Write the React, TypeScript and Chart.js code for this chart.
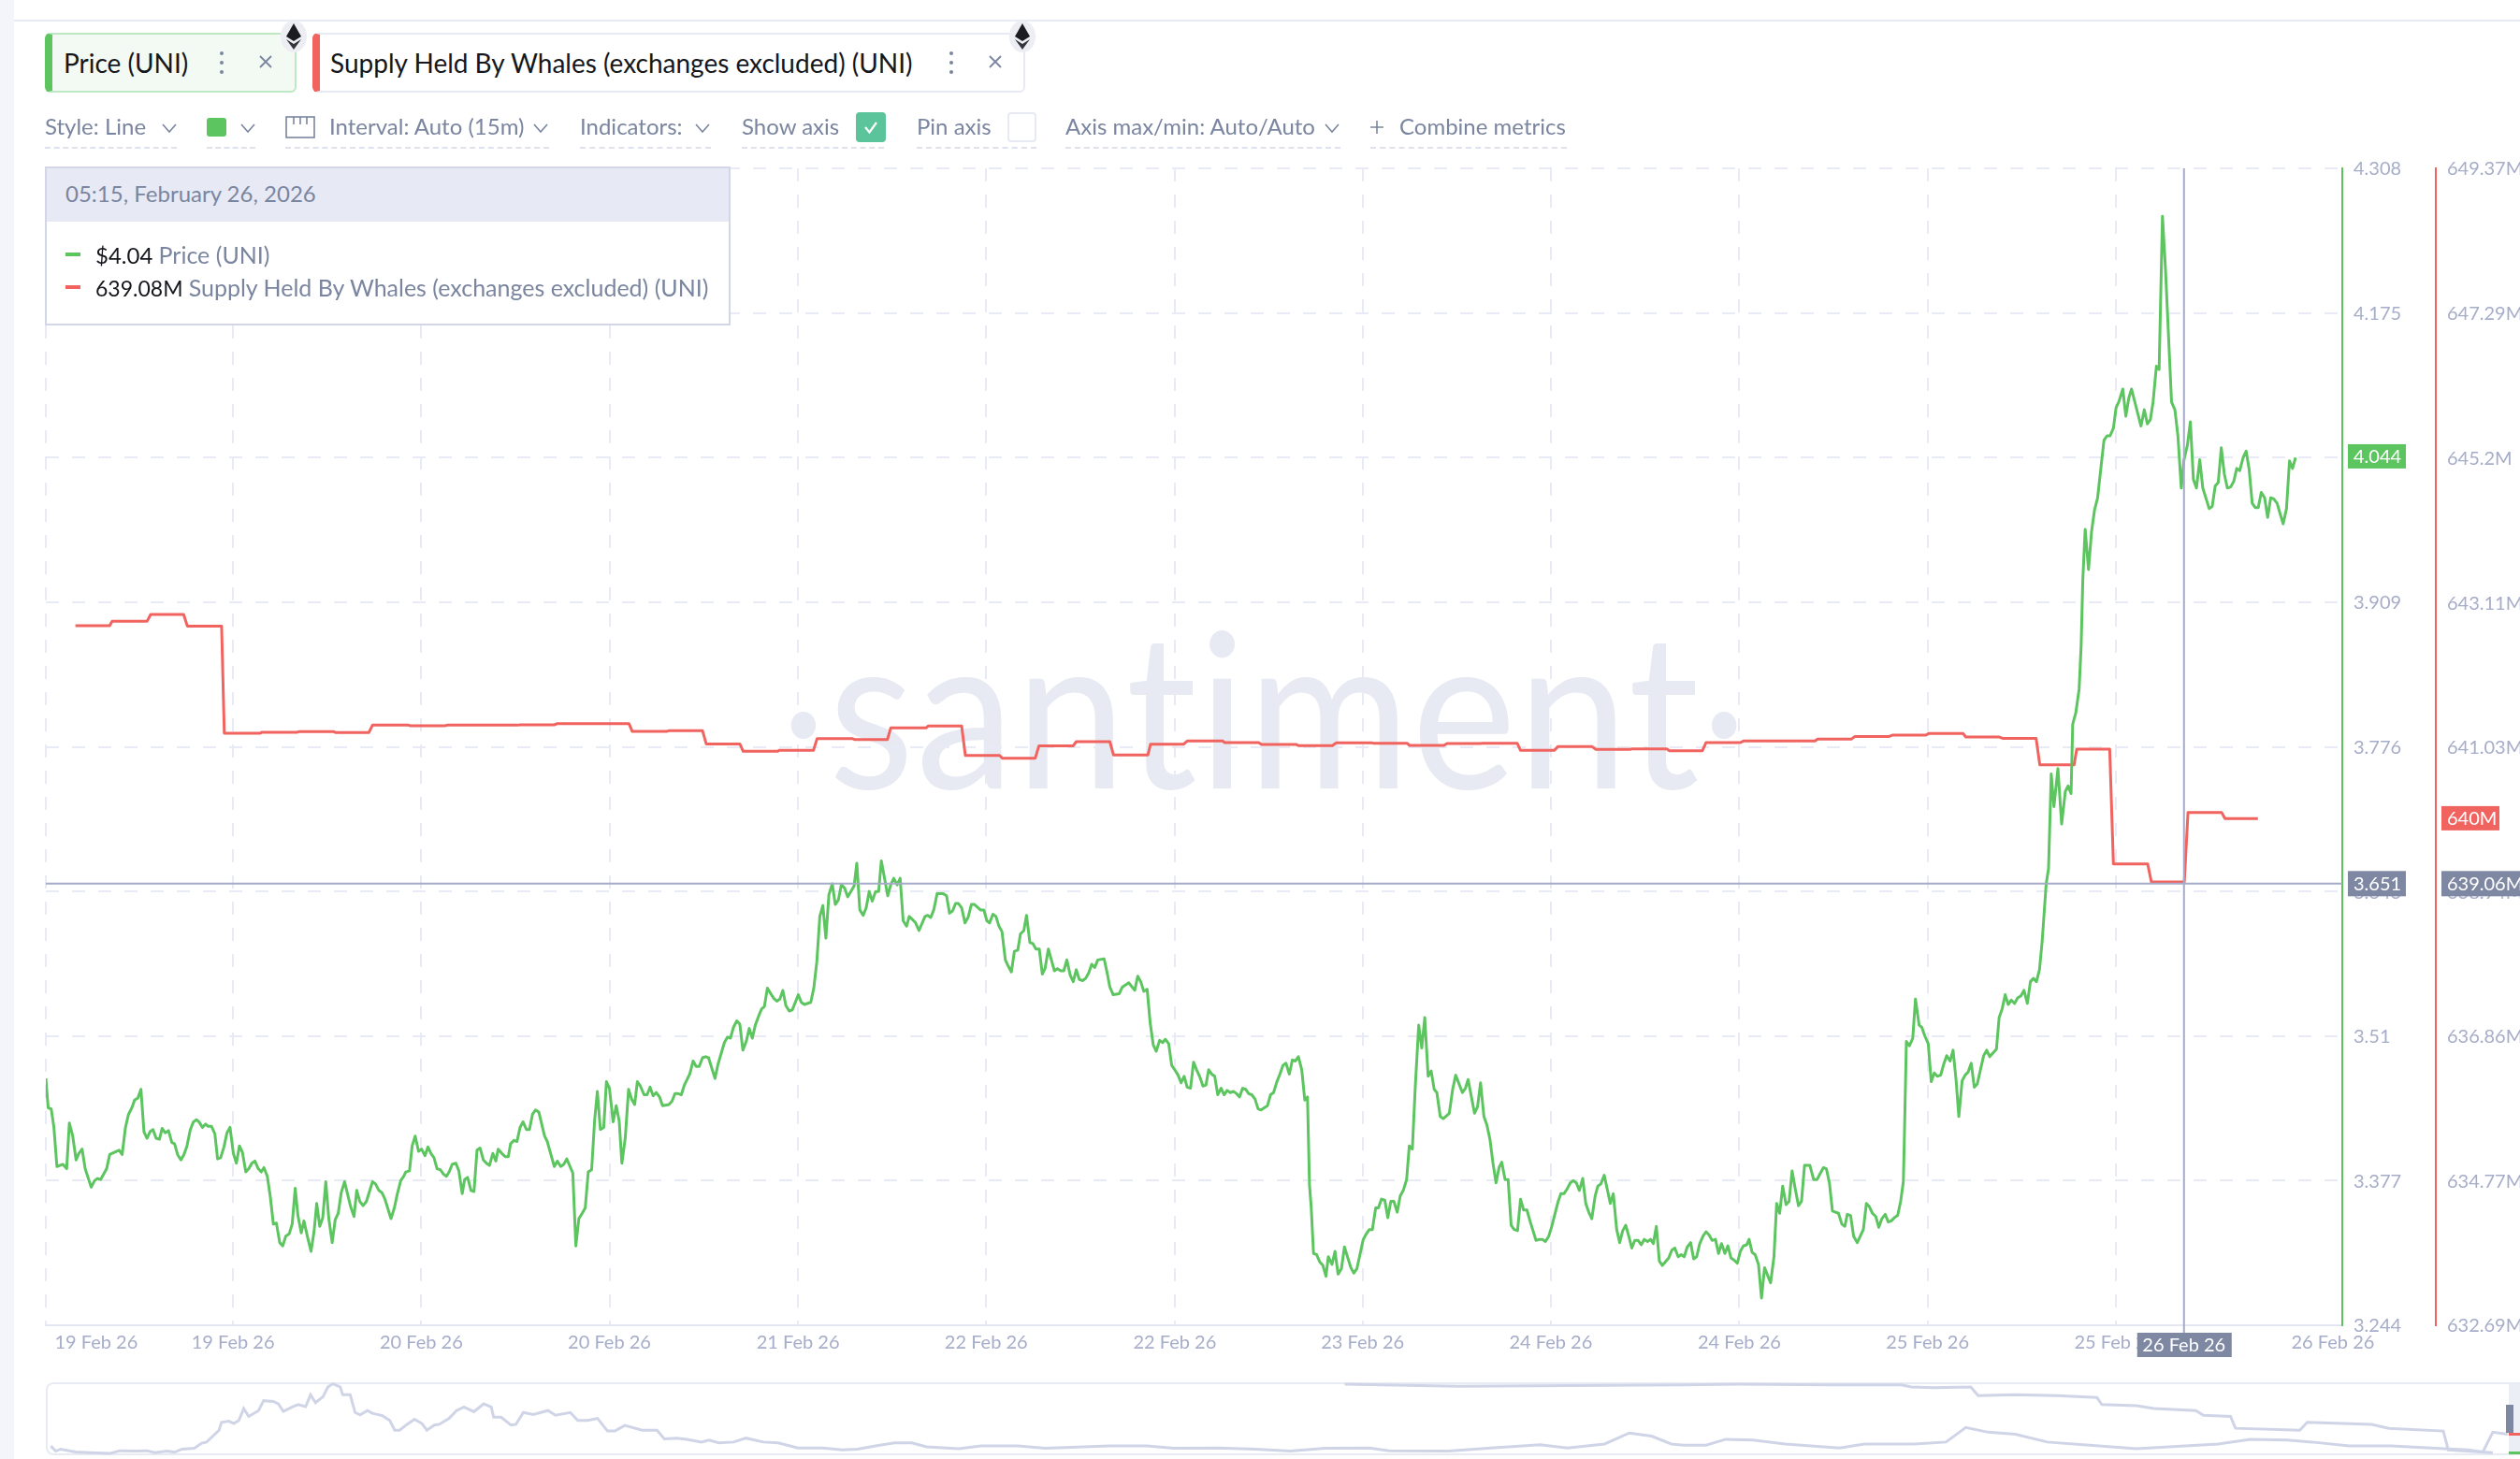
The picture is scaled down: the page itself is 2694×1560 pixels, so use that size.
import React, { useEffect, useRef } from "react";
import { Chart, registerables } from "chart.js";

Chart.register(...registerables);

const FONT = "Lato, 'Open Sans', sans-serif";
const GREEN = "#5cc55f";
const RED = "#f0635f";
const SLATE = "#7f88a3";
const AXIS_TEXT = "#a6adc9";
const GRID = "#e8eaf5";

// Price (UNI): 15-minute step index and USD value, one pair of arrays per stretch of the chart
const priceSteps1 = [0,0.7,1.6,2.4,3.3,5.1,6.2,7,8,9,9.8,10.8,11.7,13.5,14.5,15.4,16.3,18.1,19,21.8,22.7,23.7,24.6,25.6,26.4,27.4,28.3,29.2,30.1,31,31.9,32.8,33.8,34.6,35.5,36.5,37.5,38.3,39.2,40.2,41.1,42,43,43.9,44.8,45.6,46.6,47.5,48.3,49.3,50.3,51.1,52,53,53.9,54.8,55.8,56.7,57.6,58.5,59.5,60.4,61.3,62.2,63.2,64.1,64.9,65.9,66.8,67.7,68.6,69.6,70.5,71.4,72.4,73.3,74.2,75,76,76.8,77.8,78.9,79.8,80.6,81.5,82.4,83.3,84.2,85.2,86.1,87,87.9,88.9,90.7,91.7,92.5,93.4,94.4,95.4,97.2,98.1,99.1,100,100.9,101.9,102.7,103.7,104.6,105.6,106.5,107.1,108.2,109,109.9,110.9,111.8,112.8,113.7,114.6,115.5,116.4,117.4,118.3,119.2];
const priceValues1 = [3.471,3.444,3.443,3.426,3.39,3.392,3.388,3.43,3.418,3.396,3.402,3.406,3.388,3.371,3.377,3.379,3.378,3.388,3.401,3.405,3.401,3.426,3.438,3.444,3.451,3.453,3.461,3.422,3.416,3.422,3.424,3.416,3.415,3.425,3.421,3.423,3.412,3.411,3.401,3.396,3.401,3.409,3.424,3.431,3.433,3.431,3.426,3.429,3.427,3.427,3.42,3.397,3.398,3.408,3.421,3.426,3.402,3.393,3.409,3.403,3.385,3.388,3.393,3.395,3.388,3.385,3.389,3.381,3.362,3.337,3.338,3.32,3.317,3.326,3.328,3.337,3.37,3.345,3.329,3.34,3.326,3.312,3.33,3.356,3.335,3.343,3.376,3.342,3.32,3.341,3.347,3.366,3.376,3.353,3.344,3.368,3.358,3.354,3.358,3.376,3.374,3.368,3.366,3.36,3.35,3.342,3.352,3.365,3.377,3.381,3.385,3.386,3.409,3.418,3.404,3.406,3.4,3.408,3.402,3.398,3.388,3.387,3.383,3.381];

const priceSteps2 = [120,120.9,122,122.9,123.9,124.6,125.5,126.5,127.4,128.3,129.2,130.2,131.1,132,133,133.9,134.6,135.7,136.7,137.6,138.3,139.3,140.2,141.1,142,143,143.9,144.8,145.7,146.7,148.4,149.2,150.1,151.3,152.2,153.2,154.1,155,156.8,157.7,158.6,159.6,160.5,161.4,162.4,163.3,164.1,165,166,166.8,167.7,168.8,169.7,170.6,171.4,172.4,173.4,174.3,175.2,176,176.9,178,178.9,179.8,180.7,181.6,182.6,183.5,185.4,186.3,187.2,188.1,189.1,190,191.6,192.6,193.5,194.4,195.4,196.3,197.2,199.1,200,201.9,202.8,203.7,204.6,205.6,206.5,207.4,208.4,209.3,210.2,211.1,212.3,213,213.8,214.7,216.5,217.5,218.4,219.3,220.2,221.2,222.1,223.9,224.8,225.7,227.6,228.5,229.4,230.3,231.2,232.1,233,234,234.9,235.8,236.7,237.7,238.6,240.5,241.3,242.2,243.2,244.1,245,245.9,246.9,247.8,248.6,249.5,250.5,251.4,252.3,253.3];
const priceValues2 = [3.385,3.392,3.393,3.386,3.365,3.378,3.38,3.368,3.367,3.405,3.407,3.396,3.393,3.391,3.402,3.395,3.406,3.402,3.399,3.399,3.411,3.414,3.413,3.426,3.431,3.424,3.424,3.438,3.442,3.44,3.418,3.413,3.403,3.39,3.395,3.39,3.392,3.397,3.384,3.317,3.342,3.347,3.352,3.385,3.387,3.433,3.459,3.424,3.426,3.468,3.462,3.431,3.446,3.432,3.393,3.416,3.461,3.452,3.447,3.468,3.464,3.456,3.456,3.463,3.455,3.458,3.454,3.446,3.447,3.45,3.457,3.457,3.456,3.465,3.475,3.487,3.482,3.482,3.49,3.491,3.49,3.471,3.484,3.504,3.509,3.508,3.518,3.524,3.521,3.497,3.505,3.517,3.508,3.52,3.53,3.535,3.537,3.554,3.545,3.542,3.544,3.552,3.538,3.533,3.534,3.548,3.541,3.539,3.541,3.554,3.578,3.62,3.63,3.6,3.64,3.65,3.631,3.635,3.649,3.646,3.638,3.648,3.669,3.626,3.621,3.628,3.643,3.634,3.643,3.643,3.671,3.656,3.639,3.649,3.655,3.649];

const priceSteps3 = [254.2,255.1,256.1,256.9,257.9,258.8,259.8,261.6,262.4,263.3,264.2,265.2,267,268,268.9,269.8,270.7,271.5,272.5,273.5,274.4,275.4,276.3,278.1,279.1,280,280.8,281.8,282.7,283.6,284.5,285.5,286.4,287.3,288.2,289.2,290,291,291.8,292.8,293.7,294.6,295.6,296.5,297.3,298.3,299.2,300.1,301,302,302.9,303.8,304.8,305.7,306.6,307.5,308.5,309.4,310.3,311.2,312.1,313,314.9,315.8,316.6,317.6,319.4,320.3,321.3,322.2,324,324.9,325.8,326.7,327.7,328.6,329.5,330.4,331.4,332.3,333.1,334.1,335,335.9,336.9,337.8,338.7,339.6,340.6,341.5,342.4,343.3,344.3,345.2,346,346.9,347.8,348.7,349.7,350.6,351.5,352.4,353.4,354.3,355.2,356.1,357,357.9,358.8,359.8,360.7,361.6,363.5,364.4,365.3,366.3,367.2,368.1,369,370,370.9,371.8,372.7,373.7,374.6,375.4,376,376.5,377.2,378.1,379.1,380,380.9];
const priceValues3 = [3.655,3.616,3.611,3.62,3.617,3.614,3.607,3.62,3.621,3.619,3.626,3.641,3.641,3.639,3.623,3.625,3.632,3.632,3.628,3.614,3.619,3.631,3.631,3.626,3.626,3.616,3.614,3.622,3.62,3.611,3.606,3.58,3.574,3.569,3.588,3.589,3.604,3.607,3.621,3.596,3.595,3.59,3.59,3.567,3.572,3.59,3.58,3.57,3.572,3.57,3.57,3.58,3.566,3.56,3.571,3.562,3.561,3.563,3.568,3.576,3.573,3.58,3.581,3.568,3.555,3.548,3.549,3.555,3.557,3.559,3.552,3.565,3.56,3.551,3.553,3.522,3.502,3.496,3.506,3.504,3.507,3.503,3.483,3.479,3.474,3.467,3.473,3.463,3.462,3.486,3.479,3.473,3.464,3.465,3.479,3.475,3.473,3.456,3.462,3.456,3.46,3.458,3.459,3.457,3.454,3.462,3.461,3.457,3.456,3.452,3.443,3.442,3.446,3.456,3.458,3.468,3.475,3.483,3.485,3.475,3.488,3.487,3.491,3.479,3.451,3.454,3.373,3.353,3.31,3.309,3.302,3.299,3.289];

const priceSteps4 = [381.6,382.7,383.6,384.5,385.5,386.4,387.3,388.3,389.2,390.1,392,392.9,393.8,394.7,395.7,396.5,397.4,398.4,399.3,400.2,401.1,402.1,403,403.9,404.9,405.7,406.6,407.5,408.5,409.4,410.3,411.3,412.2,413.1,413.9,414.9,415.8,417.6,418.6,419.5,421.5,422.4,423.2,425.1,426,426.9,427.9,428.8,429.7,430.6,431.5,432.4,433.2,434.2,435.1,436,436.9,437.9,438.8,439.7,440.7,441.6,443.4,444.4,445.3,446.2,447.2,448.1,449,450,450.8,451.7,452.6,453.6,454.5,455.4,456.3,457.3,458.2,459.1,460,461,461.8,462.7,463.7,464.6,465.5,466.4,467.4,468.3,469.2,470.1,471,471.9,472.8,473.8,474.7,475.6,476.6,477.5,478.3,479.2,480.1,481,482.9,483.8,484.7,485.7,486.6,487.5,488.4,489.4,490.3,491.2,492.1,493.1,494,494.9,495.8,496.8,497.7,498.6,499.6,500.5,501.4,502.3,503.3,504.2,505.1,506.1,506.8,507.7,508.6,509.6,510.5,511.4,513.2];
const priceValues4 = [3.307,3.3,3.312,3.291,3.296,3.316,3.307,3.297,3.292,3.296,3.323,3.328,3.332,3.332,3.352,3.352,3.36,3.359,3.343,3.358,3.358,3.348,3.363,3.368,3.378,3.409,3.406,3.465,3.52,3.499,3.527,3.473,3.478,3.461,3.458,3.436,3.434,3.439,3.461,3.474,3.458,3.462,3.47,3.439,3.445,3.467,3.436,3.428,3.415,3.393,3.375,3.389,3.394,3.378,3.378,3.336,3.332,3.331,3.36,3.35,3.35,3.34,3.322,3.323,3.323,3.321,3.326,3.335,3.346,3.358,3.365,3.365,3.369,3.375,3.377,3.375,3.368,3.379,3.356,3.348,3.342,3.363,3.372,3.374,3.382,3.369,3.356,3.365,3.332,3.32,3.331,3.336,3.326,3.315,3.322,3.322,3.318,3.323,3.321,3.323,3.319,3.335,3.303,3.299,3.306,3.313,3.315,3.307,3.309,3.307,3.316,3.32,3.305,3.307,3.319,3.326,3.33,3.327,3.322,3.323,3.31,3.319,3.31,3.317,3.306,3.304,3.301,3.312,3.317,3.318,3.323,3.311,3.309,3.3,3.269,3.297,3.283];

const priceSteps5 = [514.2,515,515.9,516.8,517.8,518.7,519.6,520.5,521.5,522.4,523.3,524.9,526,527,528.9,529.8,530.7,531.6,533.4,534.4,535.3,536,537,537.9,539,540.8,541.7,542.6,543.5,544.5,545.4,546.3,547.3,548.2,549.1,550,551,551.9,552.7,553,553.6,554.5,555.5,556.3,557.4,558.2,559.1,560.1,561,561.9,562.8,563.8,564.7,565.6,566.6,567.5,568.4,569.2,570.2,571.1,572,572.9,573.8,574.7,576.6,577.5,578.4,580.4,581.2,582.1,583,583.9,584.8,585.8,586.7,587.7,588.6,589.6,590.5,591.4,592.3,593.2,594,594.7,595.2,595.9];
const priceValues5 = [3.307,3.356,3.347,3.372,3.355,3.358,3.386,3.37,3.354,3.358,3.391,3.391,3.378,3.378,3.389,3.388,3.375,3.349,3.347,3.337,3.335,3.346,3.345,3.326,3.32,3.332,3.356,3.353,3.347,3.344,3.334,3.342,3.346,3.339,3.34,3.343,3.345,3.358,3.376,3.416,3.505,3.501,3.508,3.544,3.52,3.518,3.51,3.503,3.468,3.476,3.473,3.474,3.484,3.492,3.487,3.497,3.469,3.436,3.469,3.474,3.477,3.485,3.463,3.466,3.492,3.497,3.491,3.498,3.527,3.535,3.548,3.539,3.543,3.54,3.545,3.547,3.552,3.54,3.56,3.563,3.56,3.571,3.597,3.628,3.65,3.664];

const priceSteps6 = [596.7,597.5,598.7,599.8,600.9,601.7,602.6,603.1,604,605,605.6,606.1,606.8,607.8,608.7,609.6,610.5,611.5,612.4,613.3,614.2,615.2,616,616.9,618,618.9,619.8,620.6,622.5,623.4,624.4,625.3,626.2,627,628,628.8,629.8,630.7,631.6,632.5,633.5,634.4,635.4,636.2,637.2,638.1,639,639.9,640.9,641.8,643.7,644.6,645.5,646.4,647.3,648.2,649.1,650.1,651,651.9,652.8,653.8,654.7,655.6,656.5,657.4,658.3,659.2,660.2,661.1,662,662.9,663.9,665.7,666.7,667.6,668.5,669.4];
const priceValues6 = [3.751,3.721,3.756,3.705,3.735,3.74,3.733,3.797,3.807,3.829,3.869,3.93,3.976,3.939,3.974,3.994,4.005,4.033,4.058,4.062,4.062,4.069,4.088,4.094,4.105,4.08,4.097,4.105,4.082,4.071,4.086,4.073,4.077,4.093,4.126,4.123,4.264,4.215,4.154,4.093,4.086,4.062,4.014,4.04,4.053,4.075,4.022,4.014,4.04,4.014,3.995,3.997,4.016,4.019,4.051,4.027,4.014,4.015,4.02,4.032,4.03,4.042,4.048,4.031,4,3.996,3.996,4.01,4.005,3.987,4.005,4.004,4,3.981,3.995,4.039,4.032,4.042];

// Supply Held By Whales: step index and millions of UNI
const supplySteps1 = [8.8,19,19.7,30.1,31.2,41,42.1,52.3,53.1,63.8,64.2,74.6,75.3,85.7,86.3,96.1,97.2,107.9,108.5,118.7,119.4,140.4,141.1,151.3,152.2,173.5,174.5,184.7,185.4,195.4,196.5,206.5,207.5,217.8,218.2,228.4,229.5,239.9,240.6,250.4,251.4,261.9,262.5,272.5,273.6,283.8,284.6,294.4,295.5,305.7,306.6,316.6,317.7,327.9];
const supplyValues1 = [642.776,642.776,642.839,642.839,642.938,642.938,642.771,642.771,641.225,641.225,641.239,641.239,641.248,641.248,641.234,641.234,641.342,641.342,641.333,641.333,641.342,641.342,641.347,641.347,641.365,641.365,641.252,641.252,641.261,641.261,641.072,641.072,640.965,640.965,640.978,640.978,641.149,641.149,641.135,641.135,641.302,641.302,641.329,641.329,640.906,640.906,640.866,640.866,641.045,641.045,641.104,641.104,640.911,640.911];
const supplySteps2 = [328.7,338.5,339.6,350.2,350.7,360.9,361.7,372,372.8,382.8,383.9,394.5,395,405,405.8,416,416.9,426.9,427.5,437.8,438.8,448.8,449.9,460.1,461.2,471.4,472.1,482.3,483.1,492.9,494,504.2,505.1,526.4,527.2,537.2,538.3,548.5,549.4,559.4,560.2,570.5,571.3,581.3,582.2,592.2,593.3,603.5,604.3,614.1,615.2,625.4,626.5,636.3,637.4,647.4,648.4,658.2];
const supplyValues2 = [641.066,641.066,641.113,641.113,641.091,641.091,641.064,641.064,641.046,641.046,641.086,641.086,641.082,641.082,641.05,641.05,641.077,641.077,641.082,641.082,640.978,640.978,641.032,641.032,640.992,640.992,641.001,641.001,640.974,640.974,641.091,641.091,641.113,641.113,641.14,641.14,641.18,641.18,641.198,641.198,641.221,641.221,641.171,641.171,641.153,641.153,640.771,640.771,640.996,640.996,639.342,639.342,639.081,639.081,640.084,640.084,639.994,639.994];

// Axes
const priceTicks = [4.308, 4.175, 4.042, 3.909, 3.776, 3.643, 3.51, 3.377, 3.244];
const priceTickLabels = ["4.308", "4.175", "", "3.909", "3.776", "3.643", "3.51", "3.377", "3.244"];
const supplyTicks = [649.37, 647.29, 645.2, 643.11, 641.03, 638.94, 636.86, 634.77, 632.69];
const timeTicks = [0, 15, 55.7, 111.7, 167.7, 223.8, 279.8, 335.9, 391.8, 447.8, 503.9, 559.9, 615.9, 680.5];
const timeLabels = ["", "19 Feb 26", "19 Feb 26", "20 Feb 26", "20 Feb 26", "21 Feb 26", "22 Feb 26", "22 Feb 26", "23 Feb 26", "24 Feb 26", "24 Feb 26", "25 Feb 26", "25 Feb 26", "26 Feb 26"];
const cursorStep = 636.2;
const cursorDate = "26 Feb 26";
const cursorPrice = 3.651;
const cursorSupply = 639.06;
const lastPrice = 4.044;
const lastSupply = 640;

// Overview strip: position along the full history (%) and relative level (%)
const miniPriceX = [0.2,0.4,0.6,1.2,1.8,2.6,3,3.6,4.1,4.4,4.9,5.2,5.5,6,6.3,6.5,7,7.1,7.4,7.6,7.8,8,8.2,8.6,8.8,9.2,9.4,9.6,10,10.2,10.5,10.7,10.9,11.2,11.4,11.6,11.9,12,12.3,12.5,12.7,13,13.2,13.6,13.9,14.1,14.3,14.6,14.9,15.2,15.4,15.7,15.9,16.3,16.6,16.9,17.3,17.7,18,18.1,18.4,18.8,19,19.3,19.7,20.3,20.6,21.2,21.5,21.9,22.3,22.7,23,23.4,24.1,24.7,25,25.5,25.9,26.5,26.8,27.2,27.8,28.3,29,29.6,30.4,31.4,32.2,32.8,33.7,34.3,35,35.6,36.9,37.8,39.3,40.4,43,44.5,45.6,47.4,48.9,50.3,51.7,53.5,54.3,56.7,58.4,60.4,61.5,63,64,64.9,65.7,66.2,67.1,67.9,69,70.3,72.5,73.5,75.5,76.8,77.6,78.5,79.6,80.9,82.6,84.5,87.8,89.1,90.6,91.6,93.1,94.8,96.4,97.9,98.5,98.9,99.5];
const miniPriceY = [12.7,5.7,8.4,4.6,3.5,2.5,6.2,5.7,6.2,3.5,5.7,4.1,8.4,9.5,16.5,18.1,34.3,45.1,46.7,43.5,47.8,64,53.2,61.3,74.8,73.7,70.4,60.2,66.7,69.4,66.7,82.9,72.1,80.2,93.6,98,93.6,82.9,82.9,58.6,55.4,61.3,57.5,54.3,47.8,34.3,34.3,42.4,49.4,43.5,34.3,41.3,42.4,50.5,61.3,66.1,59.7,70.4,66.1,52.1,52.1,41.3,42.4,58.6,55.9,61.3,54.8,58.6,47.8,47.8,50.5,33.2,33.2,40.8,34.3,34.3,22.4,23.5,21.9,18.1,20.8,17,18.1,23.5,18.1,17,10,10,7.3,8.4,13.8,17,17,11.6,8.9,12.7,12.7,9.5,12.7,12.7,9.5,10,8.4,5.7,9.5,10,6.2,5.7,10,14.3,10,15.4,30.5,26.2,15.4,13.8,13.8,21.9,20.8,15.4,10,15.4,15.4,18.1,38,31.6,28.9,18.1,13.8,8.9,15.4,21.9,20.8,18.1,12.7,12.7,10,7.3,4.6,31.6,28.9];
const miniSupplyX = [52.5,57.1,66.2,68.4,72.2,75,75.4,76.3,77.8,78.1,79.6,81.3,82.9,83.1,84.5,85.2,86.9,87.2,88.3,88.5,91.1,91.4,94,94.7,96.9,97.1,98.9];
const miniSupplyY = [97.4,94.7,96.4,97.4,96.4,96.4,93.6,92.6,93.6,81.8,82.9,81.8,79.1,69.4,67.8,64,61.3,54.8,53.2,37,34.3,45.1,42.4,37,33.2,7.3,3.5];

const concatPairs = (xs: number[][], ys: number[][]) =>
  xs.flatMap((part, p) => part.map((x, i) => ({ x, y: ys[p][i] })));

const T = ({ x, y, size = 24, color = "#7a859f", children, style }: any) => (
  <div style={{ position: "absolute", left: x, top: y, transform: "translateY(-50%)", fontSize: size, color, whiteSpace: "nowrap", lineHeight: 1, ...style }}>{children}</div>
);
const Chevron = ({ x, y }: any) => (
  <svg style={{ position: "absolute", left: x - 8, top: y - 5 }} width="16" height="10"><path d="M1 1 L8 9 L15 1" fill="none" stroke="#7a859f" strokeWidth="1.6" /></svg>
);
const Dash = ({ x, w }: any) => (
  <div style={{ position: "absolute", left: x, top: 157, width: w, borderBottom: "2px dashed #dfe2ee" }} />
);
const Kebab = ({ x }: any) => (
  <svg style={{ position: "absolute", left: x - 3, top: 54 }} width="6" height="26">
    <circle cx="3" cy="3" r="2" fill="#7a859f" /><circle cx="3" cy="13" r="2" fill="#7a859f" /><circle cx="3" cy="23" r="2" fill="#7a859f" />
  </svg>
);
const Close = ({ x }: any) => (
  <svg style={{ position: "absolute", left: x - 7, top: 59 }} width="14" height="14"><path d="M1 1 L13 13 M13 1 L1 13" stroke="#7a859f" strokeWidth="1.8" /></svg>
);
const Eth = ({ x }: any) => (
  <svg style={{ position: "absolute", left: x - 14, top: 22 }} width="28" height="34">
    <ellipse cx="14" cy="17" rx="14" ry="17" fill="#eceef3" />
    <path d="M14 3 L6 17 L14 22 L22 17 Z" fill="#1b1c22" />
    <path d="M6 20 L14 31 L22 20 L14 25 Z" fill="#33353c" />
  </svg>
);

export default function App() {
  const mainRef = useRef<HTMLCanvasElement>(null);
  const miniRef = useRef<HTMLCanvasElement>(null);

  useEffect(() => {
    document.body.style.margin = "0";
    document.body.style.background = "#ffffff";

    const overlay = {
      id: "overlay",
      afterDatasetsDraw(chart: any) {
        const { ctx, scales, chartArea } = chart;
        const px = scales.x.getPixelForValue(cursorStep);
        const py = scales.price.getPixelForValue(cursorPrice) + 1;
        ctx.save();
        ctx.strokeStyle = "#a5abc8";
        ctx.lineWidth = 2;
        ctx.beginPath();
        ctx.moveTo(px, chartArea.top);
        ctx.lineTo(px, chartArea.bottom + 10);
        ctx.moveTo(chartArea.left, py);
        ctx.lineTo(chartArea.right, py);
        ctx.stroke();
        const box = (x: number, y: number, w: number, h: number, bg: string, text: string) => {
          ctx.fillStyle = bg;
          ctx.fillRect(x, y - h / 2, w, h);
          ctx.fillStyle = "#ffffff";
          ctx.font = `20px ${FONT}`;
          ctx.textAlign = "left";
          ctx.textBaseline = "middle";
          ctx.fillText(text, x + 6, y + 1);
        };
        box(scales.price.left + 6, scales.price.getPixelForValue(lastPrice) + 1, 62, 26, GREEN, lastPrice.toFixed(3));
        box(scales.supply.left + 6, scales.supply.getPixelForValue(lastSupply), 62, 26, RED, `${lastSupply}M`);
        box(scales.price.left + 6, py, 62, 27, SLATE, cursorPrice.toFixed(3));
        box(scales.supply.left + 6, py, 84, 27, SLATE, `${cursorSupply.toFixed(2)}M`);
        ctx.fillStyle = SLATE;
        ctx.fillRect(px - 50, chartArea.bottom + 8, 101, 26);
        ctx.fillStyle = "#ffffff";
        ctx.textAlign = "center";
        ctx.fillText(cursorDate, px, chartArea.bottom + 22);
        ctx.restore();
      },
    };

    const main = new Chart(mainRef.current as HTMLCanvasElement, {
      type: "line",
      data: {
        datasets: [
          {
            label: "Price (UNI)",
            data: concatPairs(
              [priceSteps1, priceSteps2, priceSteps3, priceSteps4, priceSteps5, priceSteps6],
              [priceValues1, priceValues2, priceValues3, priceValues4, priceValues5, priceValues6]
            ),
            borderColor: GREEN,
            borderWidth: 3,
            borderJoinStyle: "round",
            pointRadius: 0,
            tension: 0,
            yAxisID: "price",
          },
          {
            label: "Supply Held By Whales (exchanges excluded) (UNI)",
            data: concatPairs([supplySteps1, supplySteps2], [supplyValues1, supplyValues2]),
            borderColor: RED,
            borderWidth: 3,
            borderJoinStyle: "round",
            pointRadius: 0,
            tension: 0,
            yAxisID: "supply",
          },
        ],
      },
      options: {
        animation: false,
        responsive: false,
        devicePixelRatio: 1,
        layout: { padding: { left: 49, top: 180, right: 0, bottom: 0 } },
        plugins: { legend: { display: false }, tooltip: { enabled: false } },
        events: [],
        scales: {
          x: {
            type: "linear",
            min: 0,
            max: 683.3,
            afterBuildTicks: (axis: any) => { axis.ticks = timeTicks.map((value) => ({ value })); },
            afterFit: (axis: any) => { axis.height = 143; },
            ticks: {
              autoSkip: false,
              maxRotation: 0,
              padding: 7,
              color: AXIS_TEXT,
              font: { family: FONT, size: 20 },
              callback: (_v: any, i: number) => timeLabels[i],
            },
            grid: {
              drawTicks: false,
              lineWidth: 2,
              color: (c: any) => (c.index === 1 || c.index === timeTicks.length - 1 ? "transparent" : GRID),
            },
            border: { color: "#e4e7f2", width: 2, dash: [14, 14] },
          },
          price: {
            type: "linear",
            position: "right",
            min: 3.244,
            max: 4.308,
            afterBuildTicks: (axis: any) => { axis.ticks = priceTicks.map((value) => ({ value })); },
            afterFit: (axis: any) => { axis.width = 100; },
            ticks: {
              autoSkip: false,
              padding: 12,
              labelOffset: 1,
              color: AXIS_TEXT,
              font: { family: FONT, size: 20 },
              callback: (_v: any, i: number) => priceTickLabels[i],
            },
            grid: { drawTicks: false, lineWidth: 2, color: GRID },
            border: { color: GREEN, width: 2, dash: [14, 14] },
          },
          supply: {
            type: "linear",
            position: "right",
            min: 632.69,
            max: 649.37,
            afterBuildTicks: (axis: any) => { axis.ticks = supplyTicks.map((value) => ({ value })); },
            afterFit: (axis: any) => { axis.width = 90; },
            ticks: {
              autoSkip: false,
              padding: 12,
              labelOffset: 1,
              color: AXIS_TEXT,
              font: { family: FONT, size: 20 },
              callback: (v: any) => `${v}M`,
            },
            grid: { drawTicks: false, drawOnChartArea: false },
            border: { color: RED, width: 2 },
          },
        },
      },
      plugins: [overlay],
    } as any);

    const mini = new Chart(miniRef.current as HTMLCanvasElement, {
      type: "line",
      data: {
        datasets: [
          { data: miniPriceX.map((x, i) => ({ x, y: miniPriceY[i] })), borderColor: "#d0d4e7", borderWidth: 3, pointRadius: 0, tension: 0 },
          { data: miniSupplyX.map((x, i) => ({ x, y: miniSupplyY[i] })), borderColor: "#d0d4e7", borderWidth: 3, pointRadius: 0, tension: 0 },
        ],
      },
      options: {
        animation: false,
        responsive: false,
        devicePixelRatio: 1,
        events: [],
        layout: { padding: 0 },
        plugins: { legend: { display: false }, tooltip: { enabled: false } },
        scales: {
          x: { type: "linear", min: 0, max: 100, display: false },
          y: { type: "linear", min: 0, max: 100, display: false },
        },
      },
    } as any);

    return () => {
      main.destroy();
      mini.destroy();
    };
  }, []);

  return (
    <div style={{ position: "absolute", left: 0, top: 0, width: 2694, height: 1560, overflow: "hidden", background: "#fff", fontFamily: FONT }}>
      <div style={{ position: "absolute", left: 0, top: 0, width: 15, height: 1560, background: "#f3f5fb" }} />
      <div style={{ position: "absolute", left: 15, top: 21, width: 2679, height: 2, background: "#e9ebf4" }} />

      {/* watermark */}
      <div style={{ position: "absolute", left: 834, top: 613, fontSize: 232, lineHeight: "280px", color: "#e7eaf2", whiteSpace: "nowrap", letterSpacing: 2, transform: "scaleX(0.91)", transformOrigin: "left center" }}>
        <span style={{ position: "relative", top: -55 }}>.</span>santiment<span style={{ position: "relative", top: -55 }}>.</span>
      </div>

      <canvas ref={mainRef} width={2694} height={1560} style={{ position: "absolute", left: 0, top: 0 }} />

      {/* metric chips */}
      <div style={{ position: "absolute", left: 48, top: 35, width: 269, height: 64, boxSizing: "border-box", background: "#f2faf3", border: "2px solid #bde8c2", borderLeft: `8px solid ${GREEN}`, borderRadius: 6 }} />
      <T x={68} y={67} size={28} color="#15171c">Price (UNI)</T>
      <Kebab x={237} />
      <Close x={284} />
      <Eth x={314} />
      <div style={{ position: "absolute", left: 334, top: 35, width: 762, height: 64, boxSizing: "border-box", background: "#fff", border: "2px solid #e8eaf3", borderLeft: `8px solid ${RED}`, borderRadius: 6 }} />
      <T x={353} y={67} size={28} color="#15171c">Supply Held By Whales (exchanges excluded) (UNI)</T>
      <Kebab x={1017} />
      <Close x={1064} />
      <Eth x={1093} />

      {/* toolbar */}
      <T x={48} y={135}>Style: Line</T>
      <Chevron x={181} y={137} />
      <Dash x={48} w={141} />
      <div style={{ position: "absolute", left: 221, top: 126, width: 21, height: 20, background: GREEN, borderRadius: 3 }} />
      <Chevron x={265} y={137} />
      <Dash x={221} w={52} />
      <svg style={{ position: "absolute", left: 305, top: 124 }} width="32" height="24">
        <rect x="1" y="1" width="30" height="22" fill="none" stroke="#7a859f" strokeWidth="1.6" />
        <path d="M9 1 V9 M16 1 V9 M23 1 V9" stroke="#7a859f" strokeWidth="1.6" />
      </svg>
      <T x={352} y={135}>Interval: Auto (15m)</T>
      <Chevron x={578} y={137} />
      <Dash x={305} w={282} />
      <T x={620} y={135}>Indicators:</T>
      <Chevron x={751} y={137} />
      <Dash x={620} w={140} />
      <T x={793} y={135}>Show axis</T>
      <svg style={{ position: "absolute", left: 915, top: 120 }} width="32" height="32">
        <rect width="32" height="32" rx="4" fill="#5cc49a" />
        <path d="M10 16 L14.5 21.5 L22 11" fill="none" stroke="#fff" strokeWidth="2.2" />
      </svg>
      <Dash x={793} w={152} />
      <T x={980} y={135}>Pin axis</T>
      <div style={{ position: "absolute", left: 1077, top: 120, width: 31, height: 32, boxSizing: "border-box", border: "2px solid #e8eaf3", borderRadius: 4, background: "#fff" }} />
      <Dash x={980} w={128} />
      <T x={1139} y={135}>Axis max/min: Auto/Auto</T>
      <Chevron x={1424} y={137} />
      <Dash x={1139} w={294} />
      <svg style={{ position: "absolute", left: 1465, top: 129 }} width="14" height="14"><path d="M7 0 V14 M0 7 H14" stroke="#7a859f" strokeWidth="1.6" /></svg>
      <T x={1496} y={135}>Combine metrics</T>
      <Dash x={1465} w={210} />

      {/* tooltip */}
      <div style={{ position: "absolute", left: 48, top: 178, width: 733, height: 170, boxSizing: "border-box", background: "rgba(255,255,255,0.97)", border: "2px solid #d2d6e6" }}>
        <div style={{ height: 57, background: "#e7eaf4" }} />
      </div>
      <T x={70} y={207}>05:15, February 26, 2026</T>
      <div style={{ position: "absolute", left: 70, top: 270, width: 16, height: 4, background: GREEN }} />
      <T x={102} y={272}><span style={{ color: "#15171c", fontSize: 24 }}>$4.04</span> <span style={{ fontSize: 25 }}>Price (UNI)</span></T>
      <div style={{ position: "absolute", left: 70, top: 305, width: 16, height: 4, background: RED }} />
      <T x={102} y={307}><span style={{ color: "#15171c", fontSize: 23 }}>639.08M</span> <span style={{ fontSize: 25 }}>Supply Held By Whales (exchanges excluded) (UNI)</span></T>

      {/* overview strip */}
      <div style={{ position: "absolute", left: 49, top: 1478, width: 2660, height: 78, boxSizing: "border-box", border: "2px solid #e9ebf4", borderRadius: 8 }} />
      <canvas ref={miniRef} width={2645} height={78} style={{ position: "absolute", left: 49, top: 1478 }} />
      <div style={{ position: "absolute", left: 2682, top: 1478, width: 12, height: 78, background: "rgba(231,234,244,0.8)" }} />
      <div style={{ position: "absolute", left: 2679, top: 1502, width: 8, height: 30, background: SLATE }} />
      <div style={{ position: "absolute", left: 2682, top: 1532, width: 12, height: 3, background: RED }} />
      <div style={{ position: "absolute", left: 2682, top: 1552, width: 12, height: 3, background: GREEN }} />
    </div>
  );
}
